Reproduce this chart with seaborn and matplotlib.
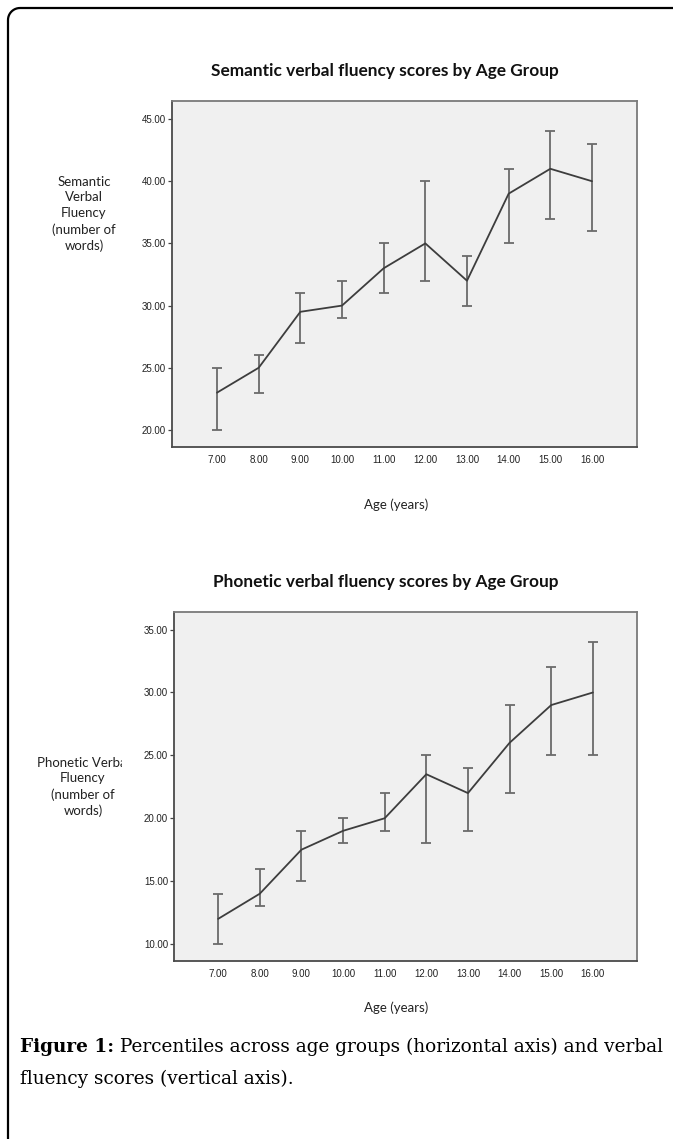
import numpy as np
import pandas as pd
import matplotlib
matplotlib.use("Agg")
import matplotlib.pyplot as plt
import seaborn as sns
from matplotlib.path import Path
from matplotlib.patches import PathPatch
from matplotlib.transforms import Bbox, TransformedBbox

# ---------------- data ----------------
ages = [7, 8, 9, 10, 11, 12, 13, 14, 15, 16]
age_tick_labels = ["7.00", "8.00", "9.00", "10.00", "11.00", "12.00", "13.00", "14.00", "15.00", "16.00"]

semantic_mid = [23, 25, 29.5, 30, 33, 35, 32, 39, 41, 40]
semantic_low = [20, 23, 27, 29, 31, 32, 30, 35, 37, 36]
semantic_high = [25, 26, 31, 32, 35, 40, 34, 41, 44, 43]
semantic_yticks = [20, 25, 30, 35, 40, 45]

phonetic_mid = [12, 14, 17.5, 19, 20, 23.5, 22, 26, 29, 30]
phonetic_low = [10, 13, 15, 18, 19, 18, 19, 22, 25, 25]
phonetic_high = [14, 16, 19, 20, 22, 25, 24, 29, 32, 34]
phonetic_yticks = [10, 15, 20, 25, 30, 35]

title_top = "Semantic verbal fluency scores by Age Group"
title_bottom = "Phonetic verbal fluency scores by Age Group"
ylabel_top = "Semantic\nVerbal\nFluency\n(number of\nwords)"
ylabel_bottom = "Phonetic Verbal\nFluency\n(number of\nwords)"
xlabel = "Age (years)"
caption_bold = "Figure 1:"
caption_rest = " Percentiles across age groups (horizontal axis) and verbal"
caption_line2 = "fluency scores (vertical axis)."

# ---------------- figure ----------------
sns.set_theme(style="white")
W, H = 673, 1139
fig = plt.figure(figsize=(W / 100, H / 100), dpi=100)
fig.patch.set_facecolor("white")

def fx(px):
    return px / W

def fy(py):
    return 1 - py / H

# outer frame with rounded top-left corner
r = 12
cx, cy = 8 + r, 8 + r
pts = [(8, H + 5), (8, cy)]
for a in np.linspace(180, 270, 12):
    t = np.deg2rad(a)
    pts.append((cx + r * np.cos(t), cy + r * np.sin(t)))
pts.append((W + 5, 8))
verts = [(fx(x), fy(y)) for x, y in pts]
frame = PathPatch(Path(verts), transform=fig.transFigure, facecolor="none",
                  edgecolor="black", linewidth=1.6, clip_on=False)
fig.patches.append(frame)

TICKFONT = ["Liberation Sans", "DejaVu Sans"]
LABFONT = ["Lato", "DejaVu Sans"]


def draw_panel(rect, mids, lows, highs, yticks, xlim, ylim):
    ax = fig.add_axes(rect)
    ax.set_facecolor("#F0F0F0")
    df = pd.DataFrame({"age": ages, "mid": mids})
    mids_a = np.array(mids, dtype=float)
    yerr = [mids_a - np.array(lows), np.array(highs) - mids_a]
    ax.errorbar(ages, mids, yerr=yerr, fmt="none", ecolor="#6a6a6a",
                elinewidth=1.3, capsize=3.6, capthick=1.3, zorder=2)
    sns.lineplot(data=df, x="age", y="mid", ax=ax, color="#3d3d3d",
                 linewidth=1.3, zorder=3, legend=False)
    ax.set_xlim(*xlim)
    ax.set_ylim(*ylim)
    ax.set_xticks(ages)
    ax.set_xticklabels(age_tick_labels)
    ax.set_yticks(yticks)
    ax.set_yticklabels([f"{v:.2f}" for v in yticks])
    ax.set_xlabel("")
    ax.set_ylabel("")
    ax.tick_params(axis="x", length=0, pad=5.5, labelsize=7, labelcolor="#222222")
    ax.tick_params(axis="y", length=3, width=0.9, color="#444444", direction="out",
                   pad=1.2, labelsize=7, labelcolor="#222222", left=True)
    for lab in ax.get_xticklabels() + ax.get_yticklabels():
        lab.set_fontfamily(TICKFONT)
    for side in ["left", "bottom"]:
        ax.spines[side].set_color("#4a4a4a")
        ax.spines[side].set_linewidth(1.3)
    for side in ["top", "right"]:
        ax.spines[side].set_color("#7a7a7a")
        ax.spines[side].set_linewidth(1.3)
    return ax


# top panel
draw_panel([fx(172), fy(447), fx(637) - fx(172), fy(101) - fy(447)],
           semantic_mid, semantic_low, semantic_high, semantic_yticks,
           (5.92, 17.08), (18.63, 46.45))
# bottom panel
draw_panel([fx(174), fy(961), fx(637) - fx(174), fy(612) - fy(961)],
           phonetic_mid, phonetic_low, phonetic_high, phonetic_yticks,
           (5.94, 17.06), (8.65, 36.4))

# titles
fig.text(fx(385), fy(71), title_top, ha="center", va="center",
         fontsize=12.4, fontweight="bold", family=LABFONT, color="#111111")
fig.text(fx(386), fy(582), title_bottom, ha="center", va="center",
         fontsize=12.4, fontweight="bold", family=LABFONT, color="#111111")

# y labels
fig.text(fx(84), fy(214), ylabel_top, ha="center", va="center",
         multialignment="center", fontsize=9.5, family=LABFONT,
         color="#222222", linespacing=1.38)
yl2 = fig.text(fx(83), fy(787), ylabel_bottom, ha="center", va="center",
               multialignment="center", fontsize=9.5, family=LABFONT,
               color="#222222", linespacing=1.38)
yl2.set_clip_box(TransformedBbox(Bbox([[0, 0], [fx(122), 1]]), fig.transFigure))
yl2.set_clip_on(True)

# x labels
fig.text(fx(396), fy(505), xlabel, ha="center", va="center",
         fontsize=9.5, family=LABFONT, color="#222222")
fig.text(fx(396), fy(1008), xlabel, ha="center", va="center",
         fontsize=9.5, family=LABFONT, color="#222222")

# caption
renderer = fig.canvas.get_renderer()
cx0 = 20
csize = 13.3
t1 = fig.text(fx(cx0), fy(1047), caption_bold, ha="left", va="center",
              fontsize=csize, fontweight="bold", family=["DejaVu Serif"], color="black")
bb = t1.get_window_extent(renderer)
fig.text(fx(cx0) + bb.width / W, fy(1047), caption_rest, ha="left", va="center",
         fontsize=csize, family=["DejaVu Serif"], color="black")
fig.text(fx(cx0), fy(1079), caption_line2, ha="left", va="center",
         fontsize=csize, family=["DejaVu Serif"], color="black")

fig.savefig("out.png", dpi=100, facecolor="white")
